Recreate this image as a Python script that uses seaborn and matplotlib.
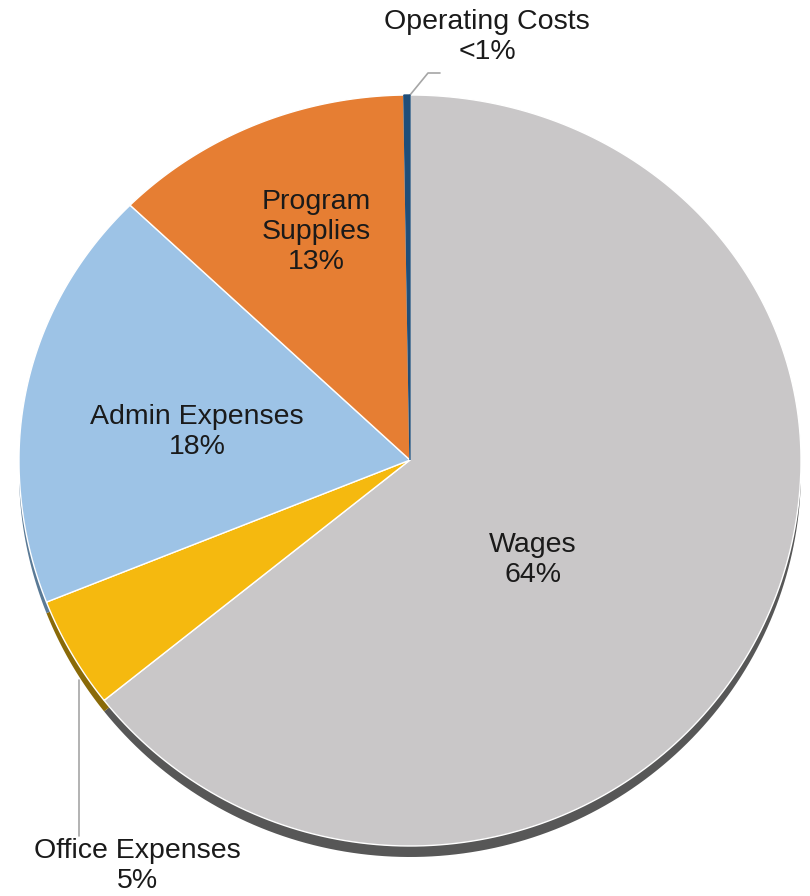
import numpy as np
import seaborn as sns
import matplotlib.pyplot as plt
from matplotlib.patches import Polygon

# slice data (clockwise from 12 o'clock)
categories = ['Wages', 'Office Expenses', 'Admin Expenses', 'Program Supplies', 'Operating Costs']
values = [64.3, 4.7, 18.3, 12.45, 0.25]
pct_labels = ['64%', '5%', '18%', '13%', '<1%']
colors = ['#C9C7C8', '#F5B90F', '#9DC3E6', '#E67E33', '#1F4E79']
shadow_colors = ['#575757', '#8A6A08', '#5A7A96', '#8A4A1E', '#1F2E49']

sns.set_theme(style='white')
plt.rcParams['font.family'] = ['Liberation Sans', 'DejaVu Sans']

W, H = 810, 896
fig = plt.figure(figsize=(W / 100, H / 100), dpi=100)
ax = fig.add_axes([0, 0, 1, 1])

# pie geometry in pixels (y up); top half a bit flatter than the bottom (tilted look)
cx, cy = 410, H - 460
rx, ry_top, ry_bot = 391, 365, 386


def tilt_wedge(t1, t2, dx=0.0, dy=0.0):
    t = np.radians(np.linspace(t1, t2, 200))
    ux = np.concatenate([[0], np.cos(t)])
    uy = np.concatenate([[0], np.sin(t)])
    x = cx + dx + rx * ux
    y = cy + dy + np.where(uy > 0, ry_top, ry_bot) * uy
    return np.column_stack([x, y])


wedges, _ = ax.pie(values, colors=colors, startangle=90, counterclock=False)
shapes = []
for w in wedges:
    shapes.append((w.theta1, w.theta2, w.get_facecolor()))
    w.remove()

# shadow / thickness underneath
for (t1, t2, _), sc in zip(shapes, shadow_colors):
    ax.add_patch(Polygon(tilt_wedge(t1, t2, 0, -11), closed=True, facecolor=sc, edgecolor='none'))
for i, (t1, t2, fc) in enumerate(shapes):
    thin = i == len(shapes) - 1
    ax.add_patch(Polygon(tilt_wedge(t1, t2), closed=True, facecolor=fc,
                         edgecolor=fc if thin else 'white', linewidth=1.0,
                         joinstyle='miter', zorder=3 if thin else 2))

ax.set_aspect('auto')
ax.set_xlim(0, W)
ax.set_ylim(0, H)
ax.axis('off')

# label centres in pixels (from top-left)
label_pos = [(533, 560), (137, 866), (197, 432), (316, 232), (487, 37)]
for cat, pct, (lx, ly) in zip(categories, pct_labels, label_pos):
    txt = cat if cat != 'Program Supplies' else 'Program\nSupplies'
    ax.text(lx, H - ly, txt + '\n' + pct, ha='center', va='center', fontsize=20.5,
            color='#1a1a1a', linespacing=1.2)

# leader lines
ax.plot([410, 428, 440], [H - 95, H - 73, H - 73], color='#A6A6A6', lw=1.2)
ax.plot([79, 79], [H - 680, H - 836], color='#A6A6A6', lw=1.2)

fig.savefig('out.png', dpi=100)
